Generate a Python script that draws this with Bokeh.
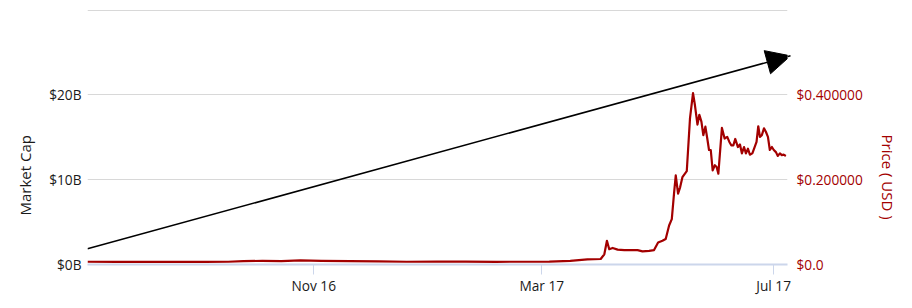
import pandas as pd
from bokeh.plotting import figure
from bokeh.models import (Range1d, LinearAxis, FixedTicker, Arrow, NormalHead,
                          ColumnDataSource, Title)
from bokeh.embed import file_html
from bokeh.resources import INLINE

# ---- data -------------------------------------------------------------
dates = [
    "2016-07-05", "2016-07-20", "2016-08-05", "2016-08-20", "2016-09-05",
    "2016-09-17", "2016-09-25", "2016-10-05", "2016-10-15", "2016-10-25",
    "2016-11-05", "2016-11-20", "2016-12-05", "2016-12-20", "2017-01-05",
    "2017-01-20", "2017-02-05", "2017-02-20", "2017-03-05", "2017-03-16",
    "2017-03-25", "2017-04-01", "2017-04-02 22:00", "2017-04-04 07:00",
    "2017-04-05 12:00", "2017-04-07 07:00", "2017-04-09 22:00", "2017-04-13 10:00",
    "2017-04-16 22:00", "2017-04-20 10:00", "2017-04-23", "2017-04-26 12:00",
    "2017-04-29 02:00", "2017-05-01 05:00", "2017-05-03 12:00", "2017-05-05 05:00",
    "2017-05-07", "2017-05-08 10:00", "2017-05-09 14:00", "2017-05-10 12:00",
    "2017-05-11 17:00", "2017-05-12 19:00", "2017-05-14", "2017-05-16 07:00",
    "2017-05-18", "2017-05-19 14:00", "2017-05-20 14:00", "2017-05-21 22:00",
    "2017-05-22 22:00", "2017-05-24", "2017-05-25", "2017-05-26 02:00",
    "2017-05-27 02:00", "2017-05-28", "2017-05-28 22:00", "2017-05-29 22:00",
    "2017-05-31 02:00", "2017-06-01", "2017-06-01 22:00", "2017-06-02 19:00",
    "2017-06-03 19:00", "2017-06-05 05:00", "2017-06-06 14:00", "2017-06-07 17:00",
    "2017-06-08 17:00", "2017-06-09 19:00", "2017-06-10 19:00", "2017-06-12 05:00",
    "2017-06-13 07:00", "2017-06-14 07:00", "2017-06-15 10:00", "2017-06-16 10:00",
    "2017-06-17 12:00", "2017-06-18 12:00", "2017-06-19 19:00", "2017-06-21",
    "2017-06-22", "2017-06-22 22:00", "2017-06-23 19:00", "2017-06-24 19:00",
    "2017-06-25 22:00", "2017-06-26 22:00", "2017-06-28", "2017-06-29",
    "2017-06-30 02:00", "2017-07-01 02:00", "2017-07-02 05:00", "2017-07-03 05:00",
    "2017-07-04 07:00", "2017-07-05 07:00", "2017-07-06 07:00", "2017-07-07 10:00",
]
price_usd = [
    0.0065, 0.0063, 0.0062, 0.0064, 0.0062,
    0.0065, 0.0080, 0.0085, 0.0078, 0.0095,
    0.0085, 0.0080, 0.0075, 0.0065, 0.0068,
    0.0066, 0.0064, 0.0065, 0.0068, 0.0085,
    0.012, 0.013, 0.024, 0.056,
    0.036, 0.039, 0.035, 0.034,
    0.034, 0.034, 0.031, 0.032,
    0.034, 0.052, 0.056, 0.060,
    0.092, 0.107, 0.167, 0.210,
    0.167, 0.182, 0.206, 0.220,
    0.345, 0.404, 0.376, 0.330,
    0.353, 0.337, 0.305, 0.325,
    0.297, 0.270, 0.270, 0.222,
    0.234, 0.230, 0.214, 0.265,
    0.322, 0.297, 0.301, 0.289,
    0.281, 0.281, 0.296, 0.277,
    0.283, 0.262, 0.277, 0.262,
    0.273, 0.259, 0.262, 0.277,
    0.289, 0.326, 0.301, 0.305,
    0.321, 0.313, 0.301, 0.270,
    0.277, 0.270, 0.265, 0.256,
    0.262, 0.258, 0.259, 0.256,
]

x_start_date = "2016-07-05"
x_end_date = "2017-07-08 07:00"

x_tick_dates = ["2016-11-01", "2017-03-01", "2017-07-01"]
x_tick_labels = ["Nov 16", "Mar 17", "Jul 17"]

cap_ticks = [0, 10e9, 20e9]
cap_tick_labels = ["$0B", "$10B", "$20B"]
cap_grid = [0, 10e9, 20e9, 30e9]
cap_max = 30.3e9

price_ticks = [0.0, 0.2, 0.4]
price_tick_labels = ["$0.0", "$0.200000", "$0.400000"]
price_max = 0.606

left_title = "Market Cap"
right_title = "Price ( USD )"

arrow_start = ("2016-07-05", 0.037)
arrow_end = ("2017-07-09 21:00", 0.492)

RED = "#a30000"
TEXT = "#1a1a1a"
FONT = "Open Sans"
TICK_FS = "13.7px"

# ---- figure -------------------------------------------------------------
def ms(s):
    return pd.Timestamp(s).value / 1e6

src = ColumnDataSource(dict(x=pd.to_datetime(dates, format="mixed"), y=price_usd))

p = figure(width=912, height=308, x_axis_type="datetime",
           x_range=Range1d(ms(x_start_date), ms(x_end_date)),
           y_range=Range1d(0, cap_max),
           output_backend="svg", toolbar_location=None,
           min_border_left=86, min_border_right=125,
           min_border_top=7, min_border_bottom=44)
p.outline_line_color = None
p.background_fill_color = "white"
p.border_fill_color = "white"
p.extra_y_ranges = {"price": Range1d(0, price_max)}

# grid
p.xgrid.grid_line_color = None
p.ygrid.ticker = FixedTicker(ticks=cap_grid)
p.ygrid.grid_line_color = "#d8d8d8"
p.ygrid.grid_line_width = 1

# x axis
xa = p.xaxis[0]
xa.ticker = FixedTicker(ticks=[ms(d) for d in x_tick_dates])
xa.major_label_overrides = {ms(d): l for d, l in zip(x_tick_dates, x_tick_labels)}
xa.axis_line_color = "#ccd6eb"
xa.axis_line_width = 2
xa.major_tick_line_color = "#ccd6eb"
xa.major_tick_in = 0
xa.major_tick_out = 10
xa.minor_tick_line_color = None
xa.major_label_text_font = FONT
xa.major_label_text_font_size = TICK_FS
xa.major_label_text_color = TEXT
xa.major_label_standoff = 1

# left axis
ya = p.yaxis[0]
ya.ticker = FixedTicker(ticks=cap_ticks)
ya.major_label_overrides = {float(t): l for t, l in zip(cap_ticks, cap_tick_labels)}
ya.axis_line_color = None
ya.major_tick_line_color = None
ya.minor_tick_line_color = None
ya.major_tick_in = 0
ya.major_tick_out = 0
ya.major_label_standoff = 6
ya.major_label_text_font = FONT
ya.major_label_text_font_size = TICK_FS
ya.major_label_text_color = TEXT

# right axis
ra = LinearAxis(y_range_name="price")
ra.ticker = FixedTicker(ticks=price_ticks)
ra.major_label_overrides = {float(t): l for t, l in zip(price_ticks, price_tick_labels)}
ra.axis_line_color = None
ra.major_tick_line_color = None
ra.minor_tick_line_color = None
ra.major_tick_in = 0
ra.major_tick_out = 0
ra.major_label_standoff = 9
ra.major_label_text_font = FONT
ra.major_label_text_font_size = TICK_FS
ra.major_label_text_color = RED
p.add_layout(ra, "right")

# axis titles as side titles, shifted along the axis like the original
p.add_layout(Title(text=left_title, align="left", offset=49, standoff=24,
                   text_font=FONT, text_font_size="15px",
                   text_font_style="normal", text_color=TEXT), "left")
p.add_layout(Title(text=right_title, align="left", offset=127, standoff=24,
                   text_font=FONT, text_font_size="15px",
                   text_font_style="normal", text_color=RED), "right")

# price line
p.line("x", "y", source=src, y_range_name="price", line_color=RED,
       line_width=2.2, line_join="round")

# trend arrow
p.add_layout(Arrow(x_start=ms(arrow_start[0]), y_start=arrow_start[1],
                   x_end=ms(arrow_end[0]), y_end=arrow_end[1],
                   y_range_name="price", line_color="black", line_width=1.5,
                   end=NormalHead(size=24, fill_color="black",
                                  line_color="black")))

open("out.html", "w").write(file_html(p, INLINE))
